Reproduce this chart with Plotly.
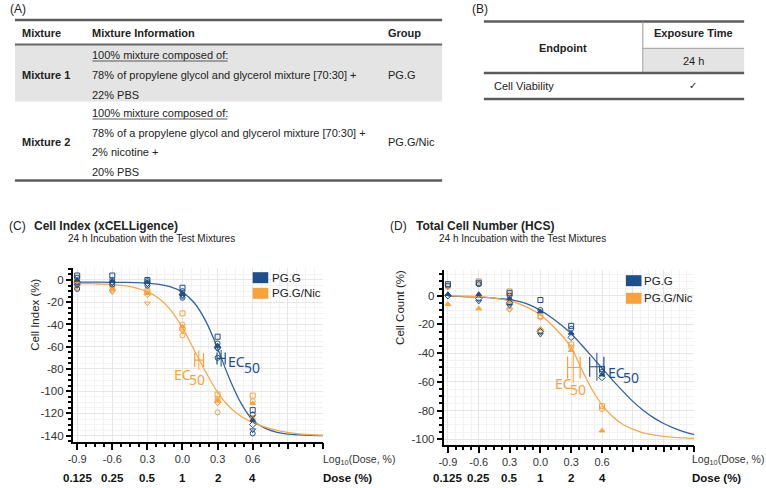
import plotly.graph_objects as go

W, H = 766, 488
def PX(x): return x / W
def PY(y): return 1 - y / H

# ---------------- data ----------------
DOSE_LOG = [-0.9, -0.6, -0.3, 0.0, 0.3, 0.6]
LOG_TICK_TEXT = ["-0.9", "-0.6", "0.3", "0.0", "0.3", "0.6"]
DOSE_TEXT = ["0.125", "0.25", "0.5", "1", "2", "4"]
EXTRA_TICKS_C = [0.9, 1.2]
EXTRA_TICKS_D = [0.9, 1.2, 1.5]
C_Y_TICKS = [-140, -120, -100, -80, -60, -40, -20, 0]
D_Y_TICKS = [-100, -80, -60, -40, -20, 0]
GROUPS = ["PG.G", "PG.G/Nic"]

# Panel C: Cell Index (%) replicates per dose
C_PGG = [[4, 2, 0, -2, -5, -8], [4, 0, -1, -2, -3, -4], [0, -1, -2, -3, -4, -5],
         [-7, -10, -12, -13, -15, -16], [-51, -57, -59, -61, -62, -70],
         [-117, -121, -126, -130, -135, -138]]
C_NIC = [[2, 0, -2, -4, -6, -7], [-4, -6, -8, -9, -11], [-10, -11, -12, -13, -21],
         [-30, -40, -42, -44, -46, -50], [-103, -107, -108, -110, -111, -119],
         [-104, -109, -111, -121, -123, -125]]
# Panel D: Cell Count (%) replicates per dose
D_PGG = [[8, 7, 1, 0], [9, 8, 1, -2, -4], [2, 0, -2, -5, -7],
         [-3, -10, -11, -25, -27], [-21, -23, -26, -29], [-51, -53, -55, -57]]
D_NIC = [[8, 6, -6], [10, 8, -9], [3, 1, -5, -9, -10],
         [-14, -15, -23, -24], [-34, -36, -38], [-77, -79, -94]]

# fitted curves
C_CURVE_X = [-0.9, -0.8, -0.7, -0.6, -0.5, -0.4, -0.3, -0.2, -0.1, 0.0, 0.1,
             0.2, 0.3, 0.4, 0.5, 0.6, 0.7, 0.8, 0.9, 1.0, 1.1, 1.2]
C_PGG_CURVE = [-2.0, -2.0, -2.0, -2.1, -2.2, -2.4, -2.9, -3.9, -6.2, -11.0, -20.5,
               -37.2, -61.5, -88.4, -110.7, -126.0, -133.0, -136.8, -138.6, -139.3, -139.7, -139.9]
C_NIC_CURVE = [-3.2, -3.3, -3.6, -4.1, -5.1, -7.0, -10.5, -16.7, -27.1, -43.0, -63.0,
               -83.0, -101.0, -114.0, -122.5, -128.0, -132.0, -135.0, -137.0, -138.3, -139.1, -139.6]
D_CURVE_X = [-0.9, -0.8, -0.7, -0.6, -0.5, -0.4, -0.3, -0.2, -0.1, 0.0, 0.1, 0.2, 0.3,
             0.4, 0.5, 0.6, 0.7, 0.8, 0.9, 1.0, 1.1, 1.2, 1.3, 1.4, 1.5]
D_PGG_CURVE = [-0.3, -0.5, -0.8, -1.0, -1.4, -2.0, -2.8, -4.2, -6.6, -10.2, -14.8, -20.3, -26.5,
               -34.2, -42.3, -50.5, -58.6, -66.3, -73.6, -79.8, -84.9, -89.0, -92.2, -94.8, -96.8]
D_NIC_CURVE = [0.0, -0.2, -0.4, -0.8, -1.3, -2.2, -3.5, -5.8, -9.0, -13.5, -19.5, -27.0, -36.0,
               -51.0, -65.0, -76.0, -84.0, -89.5, -93.0, -95.5, -97.0, -98.0, -98.7, -99.1, -99.4]

# EC50 estimates: (log dose, lower CI, upper CI, response)
C_EC50 = {"PG.G": (0.33, 0.295, 0.365, -70.5), "PG.G/Nic": (0.14, 0.104, 0.18, -72)}
D_EC50 = {"PG.G": (0.55, 0.48, 0.618, -49.5), "PG.G/Nic": (0.32, 0.265, 0.387, -50)}

# ---------------- styles ----------------
BLUE = "#1f4e8c"
ORANGE = "#f9a13a"
BLUE_LINE = "#3461a3"
ORANGE_LINE = "#f7a94a"
COL = {"PG.G": BLUE, "PG.G/Nic": ORANGE}
SYMBOLS = ["square-open", "circle-open", "triangle-up", "diamond-open", "triangle-down-open", "circle-open"]
FONT = "Liberation Sans, Arial, sans-serif"
ECFONT = "Noto Sans, Open Sans, sans-serif"
LINEC = "#5c5c5c"

fig = go.Figure()

def add_points(xa, ya, reps, color):
    xs, ys, ss = [], [], []
    for d, vals in zip(DOSE_LOG, reps):
        for i, v in enumerate(vals):
            xs.append(d); ys.append(v); ss.append(SYMBOLS[i % len(SYMBOLS)])
    fig.add_trace(go.Scatter(x=xs, y=ys, mode="markers", xaxis=xa, yaxis=ya, showlegend=False,
                             marker=dict(symbol=ss, size=5, color=color, line=dict(width=1, color=color)),
                             hoverinfo="skip"))

def add_curve(xa, ya, cx, cy, color):
    fig.add_trace(go.Scatter(x=cx, y=cy, mode="lines", xaxis=xa, yaxis=ya, showlegend=False,
                             line=dict(color=color, width=1.3, shape="spline"), hoverinfo="skip"))

def add_ec50(xa, ya, ec, color, capw):
    c, lo, hi, yv = ec
    fig.add_trace(go.Scatter(x=[c], y=[yv], mode="markers", xaxis=xa, yaxis=ya, showlegend=False,
                             marker=dict(symbol="line-ns-open", size=capw * 2, color=color,
                                         line=dict(width=1, color=color)),
                             error_x=dict(type="data", symmetric=False, array=[hi - c], arrayminus=[c - lo],
                                          color=color, thickness=1.2, width=capw),
                             hoverinfo="skip"))

# panel C
add_curve("x", "y", C_CURVE_X, C_PGG_CURVE, BLUE_LINE)
add_curve("x", "y", C_CURVE_X, C_NIC_CURVE, ORANGE_LINE)
add_points("x", "y", C_NIC, ORANGE)
add_points("x", "y", C_PGG, BLUE)
add_ec50("x", "y", C_EC50["PG.G/Nic"], ORANGE, 7)
add_ec50("x", "y", C_EC50["PG.G"], BLUE, 6)
# panel D
add_curve("x2", "y2", D_CURVE_X, D_PGG_CURVE, BLUE_LINE)
add_curve("x2", "y2", D_CURVE_X, D_NIC_CURVE, ORANGE_LINE)
add_points("x2", "y2", D_NIC, ORANGE)
add_points("x2", "y2", D_PGG, BLUE)
add_ec50("x2", "y2", D_EC50["PG.G/Nic"], ORANGE, 11)
add_ec50("x2", "y2", D_EC50["PG.G"], BLUE, 10)
# empty traces that attach the unlabelled major-tick overlay axes
fig.add_trace(go.Scatter(x=[None], y=[None], xaxis="x3", yaxis="y", showlegend=False, hoverinfo="skip"))
fig.add_trace(go.Scatter(x=[None], y=[None], xaxis="x4", yaxis="y2", showlegend=False, hoverinfo="skip"))

GRID = "#e6e6e6"
MINOR_GRID = "#f2f2f2"

def xaxis_cfg(dom, rng):
    return dict(domain=dom, range=rng, tickmode="array", tickvals=DOSE_LOG, ticktext=LOG_TICK_TEXT,
                showline=True, linecolor="black", linewidth=2, ticks="outside", ticklen=6,
                tickwidth=1.5, tickcolor="black", showgrid=True, gridcolor=GRID, gridwidth=1,
                zeroline=False, tickfont=dict(family=FONT, size=11, color="#333"),
                minor=dict(tickmode="linear", tick0=-0.9, dtick=0.075, ticks="outside", ticklen=3,
                           tickcolor="black", showgrid=True, gridcolor=MINOR_GRID))

def xextra_cfg(dom, rng, vals, over, anchor):
    return dict(domain=dom, range=rng, overlaying=over, anchor=anchor, side="bottom",
                tickmode="array", tickvals=vals, showticklabels=False, showline=False,
                ticks="outside", ticklen=6, tickwidth=1.5, tickcolor="black",
                showgrid=True, gridcolor=GRID, zeroline=False)

def yaxis_cfg(dom, rng, anchor, vals):
    return dict(domain=dom, range=rng, anchor=anchor, tickmode="array", tickvals=vals,
                ticktext=[str(v) for v in vals],
                showline=True, linecolor="black", linewidth=2, ticks="outside", ticklen=5,
                tickwidth=1.5, tickcolor="black", showgrid=True, gridcolor=GRID, zeroline=False,
                tickfont=dict(family=FONT, size=11.5, color="#333"),
                minor=dict(tickmode="linear", tick0=0, dtick=5, ticks="outside", ticklen=3,
                           tickcolor="black", showgrid=True, gridcolor=MINOR_GRID))

C_XDOM, C_XR = [PX(68.3), PX(320)], [-0.937, 1.2]
D_XDOM, D_XR = [PX(441.7), PX(694)], [-0.94, 1.5]

fig.update_layout(
    width=W, height=H, margin=dict(l=0, r=0, t=0, b=0),
    paper_bgcolor="white", plot_bgcolor="white", showlegend=False,
    font=dict(family=FONT, color="#222"),
    xaxis=dict(**xaxis_cfg(C_XDOM, C_XR), anchor="y"),
    yaxis=yaxis_cfg([PY(441.7), PY(268.3)], [-145.4, 10.5], "x", C_Y_TICKS),
    xaxis2=dict(**xaxis_cfg(D_XDOM, D_XR), anchor="y2"),
    yaxis2=yaxis_cfg([PY(445), PY(270)], [-104, 17.9], "x2", D_Y_TICKS),
    xaxis3=xextra_cfg(C_XDOM, C_XR, EXTRA_TICKS_C, "x", "y"),
    xaxis4=xextra_cfg(D_XDOM, D_XR, EXTRA_TICKS_D, "x2", "y2"),
)

shapes = []
ann = []

def text(x, y, s, size=11, bold=False, anchor="left", color="#222", family=FONT, **kw):
    ann.append(dict(x=PX(x), y=PY(y), xref="paper", yref="paper", text=("<b>%s</b>" % s) if bold else s,
                    showarrow=False, xanchor=anchor, yanchor="middle",
                    font=dict(family=family, size=size, color=color), **kw))

def hline(x0, x1, y, w=1, color=LINEC):
    shapes.append(dict(type="line", xref="paper", yref="paper", x0=PX(x0), x1=PX(x1), y0=PY(y), y1=PY(y),
                       line=dict(color=color, width=w)))

def vline(x, y0, y1, w=1, color=LINEC):
    shapes.append(dict(type="line", xref="paper", yref="paper", x0=PX(x), x1=PX(x), y0=PY(y0), y1=PY(y1),
                       line=dict(color=color, width=w)))

def rect(x0, x1, y0, y1, fill):
    shapes.append(dict(type="rect", xref="paper", yref="paper", x0=PX(x0), x1=PX(x1), y0=PY(y0), y1=PY(y1),
                       fillcolor=fill, line=dict(width=0), layer="below"))

# ---------- Table (A) ----------
text(3, 9, "(A)", 12)
rect(10, 440, 45, 101.5, "#e4e4e4")
hline(10, 440, 20, 2.5)
hline(10, 440, 44.5, 1.8, "#666")
hline(10, 440, 180.5, 2.5)
text(15, 33, "Mixture", 11, True)
text(86, 33, "Mixture Information", 11, True)
text(383, 33, "Group", 11, True)
text(86, 55, "100% mixture composed of:", 11)
hline(88, 224, 61, 0.8, "#333")
text(86, 75, "78% of propylene glycol and glycerol mixture [70:30] +", 11)
text(86, 94.5, "22% PBS", 11)
text(15, 75, "Mixture 1", 11, True)
text(383, 75, "PG.G", 11)
text(86, 113, "100% mixture composed of:", 11)
hline(88, 224, 119, 0.8, "#333")
text(86, 132.7, "78% of a propylene glycol and glycerol mixture [70:30] +", 11)
text(86, 152.3, "2% nicotine +", 11)
text(86, 171.7, "20% PBS", 11)
text(15, 142, "Mixture 2", 11, True)
text(383, 142, "PG.G/Nic", 11)

# ---------- Table (B) ----------
text(468, 9, "(B)", 12)
rect(642.5, 744, 48.8, 72, "#e4e4e4")
hline(482, 744, 21.5, 2.5)
vline(642, 21.5, 72, 1, "#999")
hline(642, 744, 48.3, 1, "#999")
hline(482, 744, 73, 2.5)
hline(482, 744, 99, 2.5)
text(693, 33, "Exposure Time", 11, True, "center")
text(693, 61, "24 h", 11, False, "center")
text(562, 47.7, "Endpoint", 11, True, "center")
text(490, 85.7, "Cell Viability", 11)
text(693, 85, "✓", 10, False, "center", family="DejaVu Sans")

# ---------- panel titles ----------
text(2, 226, "(C)", 12)
text(27, 226, "Cell Index (xCELLigence)", 12, True)
text(61, 238.5, "24 h Incubation with the Test Mixtures", 10)
text(386, 226, "(D)", 12)
text(412, 226, "Total Cell Number (HCS)", 12, True)
text(435, 238.5, "24 h Incubation with the Test Mixtures", 10)

# y axis titles
ann.append(dict(x=PX(22), y=PY(353), xref="paper", yref="paper", text="Cell Index (%)", textangle=-90,
                showarrow=False, font=dict(family=FONT, size=11.5, color="#222")))
ann.append(dict(x=PX(397), y=PY(347), xref="paper", yref="paper", text="Cell Count (%)", textangle=-90,
                showarrow=False, font=dict(family=FONT, size=11.5, color="#222")))

# dose rows
for xa, ylab, xl in [("x", 478, 318), ("x2", 478, 690)]:
    for d, t in zip(DOSE_LOG, DOSE_TEXT):
        ann.append(dict(x=d, y=PY(ylab), xref=xa, yref="paper", text="<b>%s</b>" % t, showarrow=False,
                        xanchor="center", yanchor="middle", font=dict(family=FONT, size=11.5, color="#111")))
    text(xl, 460, "Log<sub>10</sub>(Dose, %)", 10.5, color="#333")
    text(xl, ylab, "Dose (%)", 11.5, True, color="#111")

# legends
for (lx, ly0, ly1, tx) in [(249.3, 277.7, 293.3, 266.5), (625, 280.7, 298.3, 641.5)]:
    for g, yy in zip(GROUPS, [ly0, ly1]):
        shapes.append(dict(type="rect", xref="paper", yref="paper", x0=PX(lx), x1=PX(lx + 15.7),
                           y0=PY(yy - 5.5), y1=PY(yy + 5.5), fillcolor=COL[g], line=dict(width=0)))
        text(tx, yy, g, 11.5, color="#222")

# EC50 labels
def ec_label(xa, ya, x_ec, y_ec, x_sub, y_sub, color):
    ann.append(dict(x=x_ec, y=y_ec, xref=xa, yref=ya, text="EC", showarrow=False, xanchor="left",
                    yanchor="middle", font=dict(family=ECFONT, size=14, color=color)))
    ann.append(dict(x=x_sub, y=y_sub, xref=xa, yref=ya, text="50", showarrow=False, xanchor="left",
                    yanchor="middle", font=dict(family=ECFONT, size=14, color=color)))

ec_label("x", "y", 0.37, -73.5, 0.505, -79.1, BLUE)
ec_label("x", "y", -0.09, -85.0, 0.04, -89.9, ORANGE)
ec_label("x2", "y2", 0.635, -53.5, 0.785, -57.3, BLUE)
ec_label("x2", "y2", 0.12, -61.5, 0.265, -65.0, ORANGE)

fig.update_layout(shapes=shapes, annotations=ann)

fig.write_html("out.html", config={"displayModeBar": False},
               post_script="document.body.style.margin='0';")
